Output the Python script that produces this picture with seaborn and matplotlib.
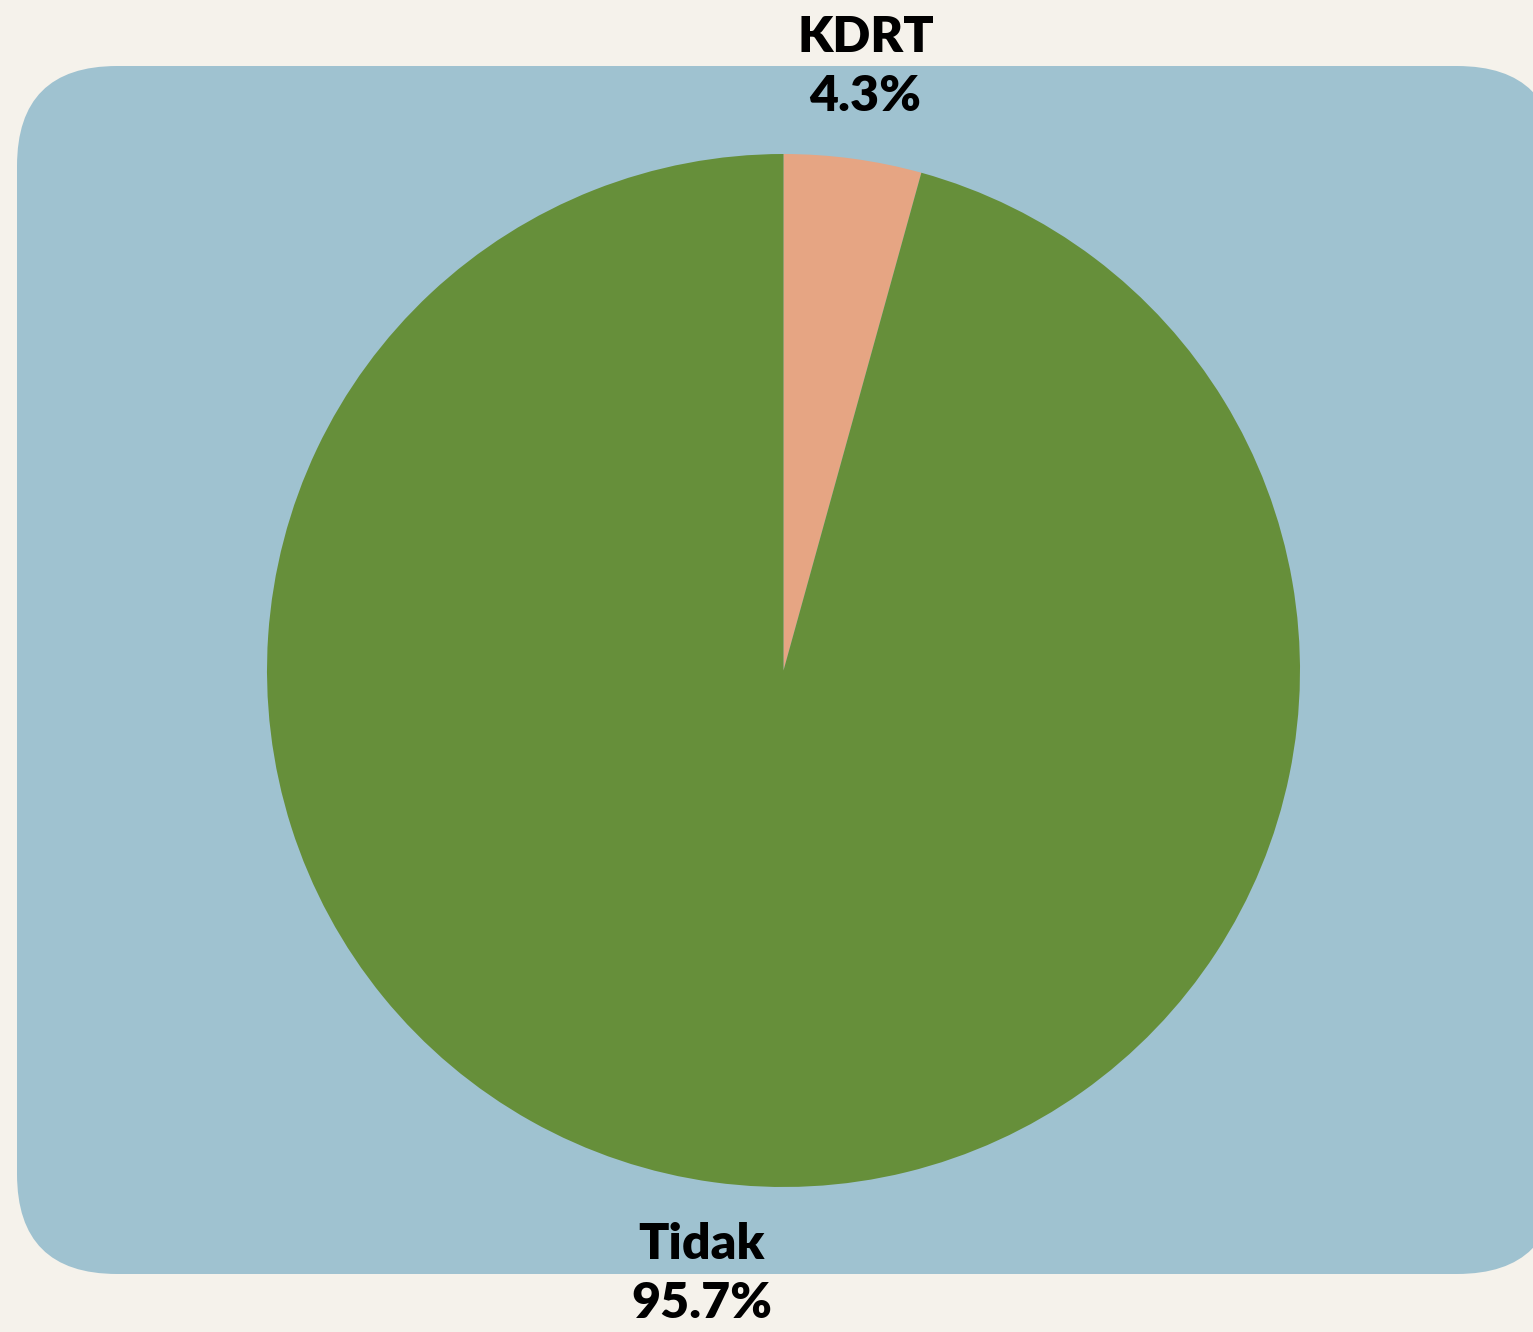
import matplotlib
matplotlib.use("Agg")
import matplotlib.pyplot as plt
from matplotlib.patches import FancyBboxPatch
import seaborn as sns

categories = ["KDRT", "Tidak"]
values = [4.3, 95.7]
colors = ["#E6A583", "#668F3A"]

BG = "#F5F2EB"
PANEL = "#9FC2D0"

sns.set_theme(style="white")
plt.rcParams['font.family'] = ['Lato', 'DejaVu Sans']

W, H = 1533, 1332
fig = plt.figure(figsize=(W / 100, H / 100), dpi=100, facecolor=BG)
ax = fig.add_axes([0, 0, 1, 1])
ax.set_facecolor(BG)

R = 516.5
cx, cy = 783.5, 670.5
ax.set_xlim(-cx / R, (W - cx) / R)
ax.set_ylim(-(H - cy) / R, cy / R)
ax.set_aspect('equal')
ax.axis('off')

# rounded panel
x0 = (17 - cx) / R
x1 = (1557 - cx) / R
ytop = (cy - 66) / R
ybot = (cy - 1274) / R
panel = FancyBboxPatch((x0, ybot), x1 - x0, ytop - ybot,
                       boxstyle="round,pad=0,rounding_size=%f" % (100 / R),
                       facecolor=PANEL, edgecolor='none', zorder=0)
ax.add_patch(panel)

labels = [f"{c}\n{v:.1f}%" for c, v in zip(categories, values)]
wedges, texts = ax.pie(values, labels=labels, colors=colors, startangle=90,
                       counterclock=False, labeldistance=1.18, radius=1.0,
                       wedgeprops=dict(linewidth=0, edgecolor='none'),
                       textprops=dict(fontsize=36, fontweight='heavy', color='black'),
                       frame=True)
for t in texts:
    t.set_horizontalalignment('center')
    t.set_verticalalignment('center')
    t.set_multialignment('center')
    t.set_linespacing(1.38)

ax.set_xlim(-cx / R, (W - cx) / R)
ax.set_ylim(-(H - cy) / R, cy / R)
ax.axis('off')

fig.savefig("out.png", dpi=100, facecolor=BG)
